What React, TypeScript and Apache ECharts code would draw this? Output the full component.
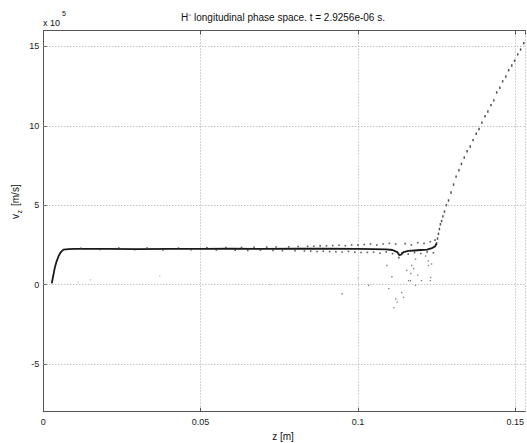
import React, { useEffect, useRef } from "react";
import * as echarts from "echarts";

// main dense band (z [m], vz [1e5 m/s])
const bandZ = [0.0027, 0.003, 0.0034, 0.0037, 0.0042, 0.0049, 0.0056, 0.0064, 0.008, 0.01, 0.02, 0.03, 0.04, 0.05, 0.06, 0.07, 0.08, 0.09, 0.1, 0.105, 0.109, 0.111, 0.1125, 0.1132, 0.1138, 0.1145, 0.116, 0.118, 0.12, 0.122, 0.1235, 0.1245, 0.125];
const bandV = [0.08, 0.4, 0.8, 1.1, 1.45, 1.82, 2.05, 2.2, 2.24, 2.25, 2.25, 2.24, 2.25, 2.25, 2.26, 2.25, 2.27, 2.26, 2.25, 2.24, 2.22, 2.18, 2.05, 1.85, 1.9, 2.05, 2.12, 2.15, 2.18, 2.2, 2.3, 2.4, 2.6];

// accelerated tail
const rampZ = [0.125, 0.1253, 0.1256, 0.1259, 0.1262, 0.1266, 0.127, 0.1275, 0.1281, 0.1288, 0.1296, 0.1304, 0.1312, 0.1321, 0.1329, 0.1338, 0.1347, 0.1357, 0.1366, 0.1376, 0.1385, 0.1394, 0.1404, 0.1413, 0.1423, 0.1432, 0.1441, 0.1451, 0.146, 0.147, 0.1479, 0.1489, 0.1498, 0.1508, 0.1517, 0.1527, 0.1536];
const rampV = [2.6, 2.9, 3.2, 3.5, 3.8, 4.0, 4.3, 4.6, 5.0, 5.3, 5.8, 6.3, 6.8, 7.2, 7.6, 8.0, 8.4, 8.7, 9.1, 9.5, 9.8, 10.2, 10.6, 10.9, 11.3, 11.6, 12.1, 12.4, 12.8, 13.1, 13.5, 13.8, 14.1, 14.5, 14.8, 15.2, 15.5];

// spread around the band
const spreadZ = [0.012, 0.018, 0.024, 0.029, 0.033, 0.038, 0.043, 0.047, 0.052, 0.055, 0.058, 0.061, 0.063, 0.065, 0.067, 0.069, 0.071, 0.073, 0.074, 0.076, 0.078, 0.08, 0.081, 0.083, 0.084, 0.085, 0.086, 0.087, 0.088, 0.089, 0.09, 0.091, 0.092, 0.093, 0.094, 0.095, 0.096, 0.097, 0.098, 0.099, 0.1, 0.101, 0.102, 0.103, 0.104, 0.105, 0.106, 0.107, 0.108, 0.109, 0.11, 0.111, 0.112, 0.113, 0.114, 0.115, 0.116, 0.117, 0.118, 0.119, 0.12, 0.121, 0.122, 0.123, 0.124, 0.1245];
const spreadV = [2.29, 2.21, 2.3, 2.2, 2.31, 2.19, 2.3, 2.2, 2.32, 2.18, 2.33, 2.17, 2.34, 2.16, 2.35, 2.17, 2.36, 2.15, 2.37, 2.14, 2.38, 2.13, 2.4, 2.12, 2.41, 2.11, 2.42, 2.09, 2.44, 2.1, 2.45, 2.08, 2.46, 2.07, 2.48, 2.05, 2.45, 2.09, 2.5, 2.04, 2.49, 2.02, 2.52, 2.03, 2.55, 2.05, 2.5, 1.98, 2.56, 2.06, 2.6, 1.95, 2.55, 1.7, 2.0, 2.58, 1.92, 2.5, 2.02, 2.64, 1.96, 2.6, 2.06, 2.7, 2.0, 2.8];

// lost / decelerated particles
const lowZ = [0.1171, 0.1168, 0.1161, 0.1139, 0.112, 0.1114, 0.1145, 0.1224, 0.1234, 0.1231, 0.1202, 0.1183, 0.1098, 0.1092, 0.1183, 0.1177, 0.1167, 0.1224, 0.123, 0.095, 0.1034, 0.1125, 0.1155, 0.119, 0.1215, 0.1108];
const lowV = [1.2, 0.7, 0.25, -0.5, -0.9, -1.45, -0.8, 1.5, 1.3, 0.45, 0.25, -0.05, -0.25, 1.2, 1.6, 1.0, 0.25, 1.2, 0.25, -0.57, -0.05, -1.1, 0.9, 0.6, 1.8, 0.5];

// faint stray points
const strayZ = [0.011, 0.015, 0.037, 0.072, 0.1];
const strayV = [0.15, 0.3, 0.55, 0.0, 0.4];

const xTicks = [0, 0.05, 0.1, 0.15];
const yTicks = [-5, 0, 5, 10, 15];

const zip = (a: number[], b: number[]) => a.map((v, i) => [v, b[i]]);

const FONT = "Liberation Sans, Arial, sans-serif";

export default function App() {
  const ref = useRef<HTMLDivElement>(null);
  useEffect(() => {
    if (!ref.current) return;
    const chart = echarts.init(ref.current, null, { renderer: "svg" });
    const axisColor = "#555";
    const gridLine = { type: [1, 2] as any, color: "#a8a8a8", width: 1 };
    chart.setOption({
      animation: false,
      backgroundColor: "#fff",
      textStyle: { fontFamily: FONT },
      grid: { left: 43.3, right: 0, top: 30.5, bottom: 31.3 },
      xAxis: [
        {
          type: "value",
          position: "bottom",
          min: 0,
          max: 0.1532,
          interval: 0.05,
          axisLine: { onZero: false, lineStyle: { color: axisColor, width: 1 } },
          axisTick: { inside: true, length: 4, lineStyle: { color: axisColor } },
          axisLabel: {
            fontSize: 9,
            color: "#222",
            margin: 6,
            showMaxLabel: false,
            formatter: (v: number) => {
              const t = xTicks.find((x) => Math.abs(x - v) < 1e-9);
              return t === undefined ? "" : String(t);
            },
          },
          splitLine: { show: true, lineStyle: gridLine },
        },
        {
          type: "value",
          position: "top",
          min: 0,
          max: 0.1532,
          interval: 0.05,
          axisLine: { show: true, onZero: false, lineStyle: { color: axisColor, width: 1 } },
          axisTick: { show: true, inside: true, length: 4, lineStyle: { color: axisColor } },
          axisLabel: { show: false },
          splitLine: { show: false },
        },
      ],
      yAxis: {
        type: "value",
        min: -8,
        max: 16,
        axisLine: { show: true, onZero: false, lineStyle: { color: axisColor, width: 1 } },
        axisTick: { show: true, inside: true, length: 4, customValues: yTicks, lineStyle: { color: axisColor } },
        axisLabel: { fontSize: 9, color: "#222", margin: 4, customValues: yTicks },
        splitLine: { show: false },
      },
      series: [
        {
          type: "line",
          data: zip(bandZ, bandV),
          showSymbol: false,
          symbol: "none",
          lineStyle: { color: "#1a1a1a", width: 1.8 },
          markLine: {
            silent: true,
            symbol: "none",
            label: { show: false },
            lineStyle: gridLine,
            data: yTicks.map((y) => ({ yAxis: y })),
          },
          z: 3,
        },
        {
          type: "scatter",
          data: zip(spreadZ, spreadV),
          symbol: "rect",
          symbolSize: 1.6,
          itemStyle: { color: "#333" },
          z: 4,
        },
        {
          type: "scatter",
          data: zip(rampZ, rampV),
          symbol: "rect",
          symbolSize: [1.5, 2.4],
          itemStyle: { color: "#222" },
          z: 4,
        },
        {
          type: "scatter",
          data: zip(lowZ, lowV),
          symbol: "rect",
          symbolSize: 1.4,
          itemStyle: { color: "#666" },
          z: 4,
        },
        {
          type: "scatter",
          data: zip(strayZ, strayV),
          symbol: "rect",
          symbolSize: 1.4,
          itemStyle: { color: "#bbb" },
          z: 4,
        },
      ],
      graphic: [
        {
          type: "text",
          x: 283,
          y: 17.5,
          style: {
            text: "H⁻ longitudinal phase space. t = 2.9256e-06 s.",
            font: `10px ${FONT}`,
            fill: "#111",
            align: "center",
            verticalAlign: "middle",
          },
        },
        {
          type: "text",
          x: 43,
          y: 22.5,
          style: { text: "x 10", font: `9px ${FONT}`, fill: "#111", align: "left", verticalAlign: "middle" },
        },
        {
          type: "text",
          x: 62,
          y: 13,
          style: { text: "5", font: `7px ${FONT}`, fill: "#111", align: "left", verticalAlign: "middle" },
        },
        {
          type: "text",
          x: 283,
          y: 436.5,
          style: { text: "z [m]", font: `10px ${FONT}`, fill: "#111", align: "center", verticalAlign: "middle" },
        },
        {
          type: "group",
          x: 15,
          y: 219,
          rotation: Math.PI / 2,
          children: [
            {
              type: "text",
              x: 0,
              y: 0,
              style: { text: "v", font: `10px ${FONT}`, fill: "#111", align: "left", verticalAlign: "middle" },
            },
            {
              type: "text",
              x: 5.5,
              y: 4,
              style: { text: "z", font: `7px ${FONT}`, fill: "#111", align: "left", verticalAlign: "middle" },
            },
            {
              type: "text",
              x: 13,
              y: 0,
              style: { text: "[m/s]", font: `10px ${FONT}`, fill: "#111", align: "left", verticalAlign: "middle" },
            },
          ],
        },
      ],
    });
    return () => chart.dispose();
  }, []);
  return (
    <div
      ref={ref}
      style={{ position: "fixed", left: 0, top: 0, width: 527, height: 443, background: "#fff" }}
    />
  );
}
